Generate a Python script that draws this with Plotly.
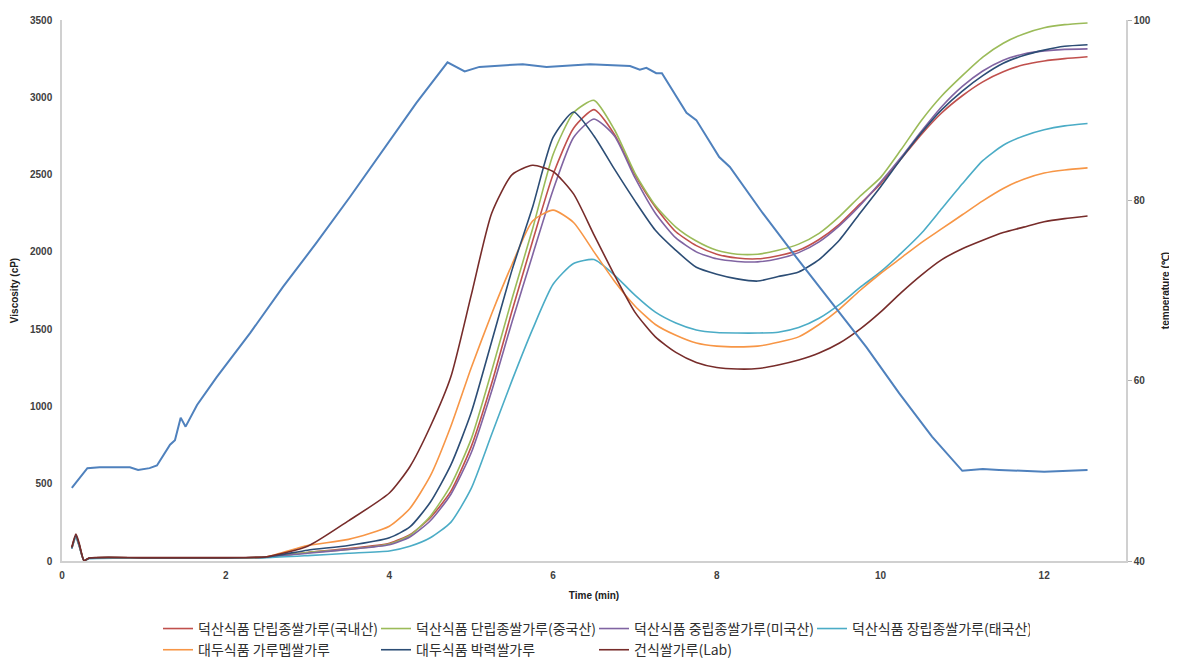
import plotly.graph_objects as go

# ---------------- data ----------------
t_visc = [0.12, 0.17, 0.21, 0.27, 0.33, 1.0, 2.0, 2.5, 3.0, 3.5, 4.0, 4.25, 4.5, 4.75, 5.0,
          5.25, 5.5, 5.75, 6.0, 6.25, 6.5, 6.75, 7.0, 7.25, 7.5, 7.75, 8.0, 8.25, 8.5, 8.75,
          9.0, 9.25, 9.5, 9.75, 10.0, 10.25, 10.5, 10.75, 11.0, 11.25, 11.5, 11.75, 12.0, 12.25, 12.53]

red_domestic = [85, 160, 100, 2, 18, 20, 20, 25, 55, 80, 115, 170, 280, 450, 740,
                1150, 1620, 2070, 2500, 2800, 2920, 2760, 2500, 2290, 2130, 2040, 1985, 1960, 1955, 1975,
                2010, 2080, 2180, 2310, 2440, 2600, 2760, 2900, 3010, 3100, 3165, 3210, 3235, 3250, 3262]
green_china = [80, 165, 105, 2, 18, 20, 20, 25, 55, 75, 110, 165, 290, 490, 790,
               1230, 1700, 2150, 2630, 2900, 2980, 2790, 2510, 2300, 2160, 2070, 2010, 1985, 1985, 2010,
               2050, 2120, 2230, 2360, 2480, 2660, 2850, 3010, 3140, 3260, 3350, 3410, 3450, 3470, 3481]
purple_usa = [80, 160, 100, 2, 18, 20, 20, 25, 50, 75, 105, 155, 260, 430, 700,
              1100, 1550, 1980, 2400, 2740, 2860, 2750, 2480, 2250, 2090, 2000, 1955, 1938, 1935, 1955,
              1995, 2065, 2170, 2300, 2450, 2610, 2780, 2940, 3070, 3170, 3240, 3280, 3300, 3310, 3313]
cyan_thai = [80, 150, 95, 2, 15, 18, 18, 22, 35, 50, 65, 95, 150, 250, 470,
             820, 1170, 1500, 1790, 1925, 1950, 1850, 1720, 1610, 1540, 1495, 1478, 1475, 1475, 1480,
             1510, 1570, 1660, 1770, 1870, 1990, 2120, 2280, 2440, 2590, 2690, 2750, 2790, 2815, 2830]
orange_daedu = [85, 165, 105, 2, 18, 20, 20, 27, 100, 140, 225, 340, 550, 870, 1250,
                1600, 1920, 2200, 2270, 2190, 2000, 1810, 1650, 1530, 1460, 1410, 1390, 1385, 1390, 1415,
                1450, 1530, 1630, 1750, 1860, 1960, 2060, 2150, 2240, 2330, 2410, 2470, 2510, 2530, 2543]
navy_daedu = [85, 165, 105, 2, 18, 20, 20, 26, 70, 100, 150, 220, 380, 620, 960,
              1420, 1885, 2290, 2740, 2905, 2750, 2535, 2330, 2140, 2010, 1900, 1855, 1825, 1811, 1840,
              1870, 1950, 2077, 2250, 2420, 2600, 2770, 2920, 3040, 3140, 3220, 3270, 3305, 3330, 3340]
brown_lab = [90, 175, 115, 2, 20, 22, 22, 28, 95, 260, 440, 610, 870, 1190, 1720,
             2250, 2500, 2560, 2520, 2375, 2110, 1850, 1610, 1450, 1350, 1285, 1252, 1242, 1245, 1268,
             1300, 1345, 1410, 1500, 1610, 1735, 1850, 1950, 2020, 2075, 2125, 2160, 2195, 2215, 2232]

t_temp = [0.12, 0.31, 0.46, 0.83, 0.93, 1.07, 1.16, 1.32, 1.38, 1.45, 1.51, 1.65, 1.89, 2.30,
          2.70, 3.11, 3.52, 3.92, 4.33, 4.71, 4.92, 5.10, 5.63, 5.92, 6.45, 6.94, 7.06, 7.14,
          7.26, 7.33, 7.51, 7.63, 7.75, 7.88, 8.03, 8.16, 8.56, 8.97, 9.38, 9.83, 10.23, 10.63,
          11.00, 11.25, 11.45, 12.0, 12.53]
temperature = [48.1, 50.3, 50.4, 50.4, 50.1, 50.3, 50.6, 52.9, 53.4, 55.9, 54.9, 57.3, 60.4, 65.3,
               70.4, 75.3, 80.4, 85.6, 90.8, 95.3, 94.3, 94.8, 95.1, 94.8, 95.1, 94.9, 94.5, 94.7,
               94.1, 94.1, 91.5, 89.7, 88.9, 87.0, 84.8, 83.7, 78.6, 73.7, 68.9, 63.7, 58.6, 53.8,
               50.0, 50.2, 50.1, 49.9, 50.1]

series_names = ["덕산식품 단립종쌀가루(국내산)", "덕산식품 단립종쌀가루(중국산)",
                "덕산식품 중립종쌀가루(미국산)", "덕산식품 장립종쌀가루(태국산)",
                "대두식품 가루멥쌀가루", "대두식품 박력쌀가루", "건식쌀가루(Lab)"]
series_values = [red_domestic, green_china, purple_usa, cyan_thai, orange_daedu, navy_daedu, brown_lab]
series_colors = ["#C0504D", "#9BBB59", "#8064A2", "#4BACC6", "#F79646", "#2C4D75", "#772C2A"]

x_ticks = [0, 2, 4, 6, 8, 10, 12]
y_ticks = [0, 500, 1000, 1500, 2000, 2500, 3000, 3500]
y2_ticks = [40, 60, 80, 100]

# ---------------- figure ----------------
fig = go.Figure()

fig.add_trace(go.Scatter(x=t_temp, y=temperature, mode="lines", yaxis="y2",
                         line=dict(color="#4F81BD", width=2), showlegend=False,
                         name="temperature"))

for name, vals, col in zip(series_names, series_values, series_colors):
    fig.add_trace(go.Scatter(x=t_visc, y=vals, mode="lines", name=name,
                             line=dict(color=col, width=1.6, shape="spline", smoothing=0.6)))

tick_font = dict(family="Liberation Sans, Arial", size=10, color="#404040", weight="bold")
title_font = dict(family="Liberation Sans, Arial", size=10, color="#202020", weight="bold")

# the page body adds an 8 px offset, so margins are shifted accordingly
fig.update_layout(
    width=1177, height=658,
    paper_bgcolor="white", plot_bgcolor="white",
    margin=dict(l=54, r=59, t=12, b=105, autoexpand=False),
    xaxis=dict(range=[0, 13], tickvals=x_ticks, showgrid=False, zeroline=False, automargin=False,
               showline=True, linecolor="#D0D0D0", linewidth=1.5, ticks="", ticklabelstandoff=4,
               tickfont=tick_font,
               title=dict(text="Time (min)", font=title_font, standoff=12)),
    yaxis=dict(range=[0, 3500], tickvals=y_ticks, showgrid=False, zeroline=False, automargin=False,
               showline=True, linecolor="#D0D0D0", linewidth=1.5, ticks="", ticklabelstandoff=6,
               tickfont=tick_font,
               title=dict(text="Viscosity (cP)", font=title_font, standoff=10)),
    yaxis2=dict(range=[40, 100], tickvals=y2_ticks, overlaying="y", side="right", automargin=False,
                showgrid=False, zeroline=False, showline=True, linecolor="#D0D0D0", linewidth=1.5,
                ticks="outside", ticklen=4, tickcolor="#B0B0B0",
                tickfont=tick_font,
                title=dict(text="temperature (℃)", font=title_font, standoff=12)),
    legend=dict(orientation="h", x=0.5, xanchor="center", y=-0.096, yanchor="top",
                entrywidth=173, entrywidthmode="pixels", itemwidth=30,
                font=dict(family="Noto Sans CJK KR", size=14, color="#303030"),
                tracegroupgap=0, bgcolor="rgba(0,0,0,0)"),
)

fig.write_html("out.html")
